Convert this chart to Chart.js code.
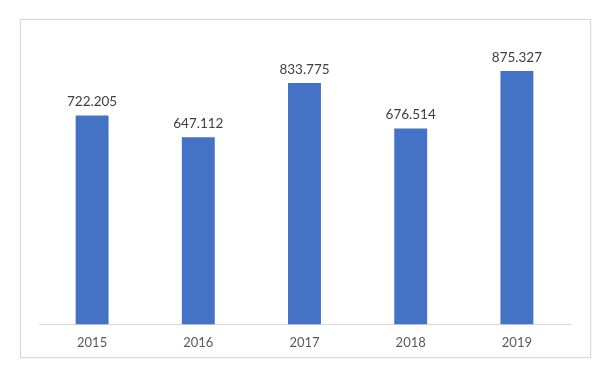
<!DOCTYPE html>
<html>
<head>
<meta charset="utf-8">
<script src="https://cdn.jsdelivr.net/npm/chart.js@4/dist/chart.umd.min.js"></script>
<style>
    html, body { margin: 0; padding: 0; background: #fff; }
    #frame {
        position: absolute;
        left: 20px;
        top: 19px;
        width: 569px;
        height: 337px;
        border: 1px solid #d9d9d9;
        box-shadow: 0 0 2px rgba(0,0,0,0.08);
    }
    #chart { display: block; }
</style>
</head>
<body>
<div id="frame"><canvas id="chart" width="569" height="342"></canvas></div>
<script>
    const years = ['2015', '2016', '2017', '2018', '2019'];
    const values = [722.205, 647.112, 833.775, 676.514, 875.327];

    // bar value labels, drawn from the bar elements
    const valueLabels = {
        id: 'valueLabels',
        afterDatasetsDraw(chart) {
            const ctx = chart.ctx;
            const meta = chart.getDatasetMeta(0);
            ctx.save();
            ctx.font = '13.5px Lato';
            ctx.fillStyle = '#404040';
            ctx.textAlign = 'center';
            ctx.textBaseline = 'bottom';
            meta.data.forEach((bar, i) => {
                ctx.fillText(values[i].toFixed(3), bar.x, bar.y - 7);
            });
            ctx.restore();
        }
    };

    new Chart(document.getElementById('chart'), {
        type: 'bar',
        data: {
            labels: years,
            datasets: [{
                data: values,
                backgroundColor: '#4472c4',
                barPercentage: 0.31,
                categoryPercentage: 1
            }]
        },
        options: {
            responsive: false,
            animation: false,
            layout: {
                padding: { left: 18, right: 20, top: 15, bottom: 0 }
            },
            plugins: {
                legend: { display: false },
                tooltip: { enabled: false }
            },
            scales: {
                x: {
                    grid: { display: false, drawTicks: false },
                    border: { display: true, color: '#d9d9d9', width: 1 },
                    ticks: {
                        color: '#595959',
                        font: { family: 'Lato', size: 13 },
                        padding: 11
                    }
                },
                y: {
                    display: false,
                    min: 0,
                    max: 1000
                }
            }
        },
        plugins: [valueLabels]
    });
</script>
</body>
</html>
